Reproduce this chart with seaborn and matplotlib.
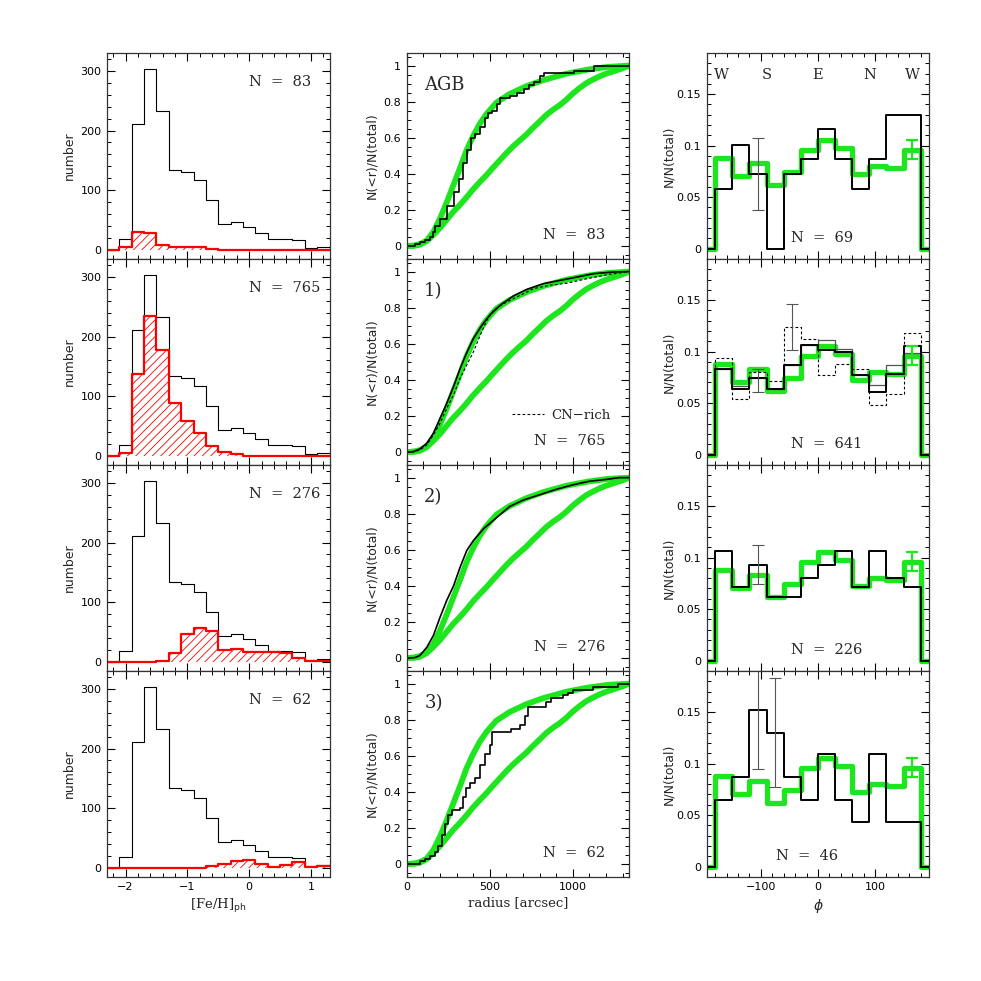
"""
Recreation of a 4x3 panel figure: [Fe/H] histograms, cumulative radial
distributions and azimuthal (phi) distributions for four stellar groups.
"""
import matplotlib
matplotlib.use("Agg")
import matplotlib.pyplot as plt
from matplotlib.lines import Line2D
from matplotlib.ticker import MultipleLocator, FuncFormatter
import numpy as np
import pandas as pd
import seaborn as sns

sns.set_theme(style="ticks")
plt.rcParams["font.family"] = ["DejaVu Sans"]
plt.rcParams["hatch.linewidth"] = 0.6
plt.rcParams["hatch.color"] = "red"

GREEN = "#1ee61e"
RED = "#ff0000"
SERIF = ["DejaVu Serif"]

# ---- left column: [Fe/H] histograms -------------------------------------
FEH_EDGES = [-2.3, -2.1, -1.9, -1.7, -1.5, -1.3, -1.1, -0.9, -0.7, -0.5,
             -0.3, -0.1, 0.1, 0.3, 0.5, 0.7, 0.9, 1.1, 1.3]
FEH_ALL = [0, 18, 211, 304, 232, 134, 131, 117, 84, 43, 47, 39, 28, 19, 19,
           16, 3, 4]
FEH_AGB = [0, 4, 30, 28, 8, 4, 4, 4, 1, 0, 0, 0, 0, 0, 0, 0, 0, 0]
FEH_POP1 = [0, 5, 138, 234, 178, 88, 58, 38, 16, 7, 3, 0, 0, 0, 0, 0, 0, 0]
FEH_POP2 = [0, 0, 0, 0, 1, 15, 46, 56, 52, 20, 22, 17, 16, 17, 15, 6, 2, 1]
FEH_POP3 = [0, 0, 0, 0, 0, 0, 0, 0, 3, 7, 12, 13, 6, 2, 5, 9, 2, 3]
FEH_SUBSETS = [FEH_AGB, FEH_POP1, FEH_POP2, FEH_POP3]

N_LEFT = ["N  =  83", "N  =  765", "N  =  276", "N  =  62"]
PANEL_TAGS = ["AGB", "1)", "2)", "3)"]
N_RIGHT = ["N  =  69", "N  =  641", "N  =  226", "N  =  46"]

# ---- middle column: cumulative radial distributions ---------------------
R_GREEN_IN = [0, 50, 80, 120, 160, 200, 240, 280, 320, 360, 400, 440, 480,
              540, 620, 720, 820, 960, 1090, 1210, 1340]
CUM_GREEN_IN = [0, 0.004, 0.012, 0.03, 0.078, 0.152, 0.24, 0.335, 0.43,
                0.53, 0.61, 0.678, 0.732, 0.795, 0.843, 0.886, 0.919, 0.955,
                0.978, 0.993, 1.0]
R_GREEN_OUT = [0, 50, 80, 120, 160, 200, 240, 280, 320, 360, 400, 440, 480,
               520, 560, 600, 640, 680, 720, 760, 800, 840, 880, 920, 960,
               1000, 1040, 1080, 1120, 1160, 1200, 1250, 1300, 1340]
CUM_GREEN_OUT = [0, 0.003, 0.008, 0.028, 0.062, 0.10, 0.145, 0.19, 0.228,
                 0.27, 0.315, 0.355, 0.393, 0.435, 0.475, 0.515, 0.552,
                 0.585, 0.617, 0.655, 0.69, 0.726, 0.755, 0.78, 0.81, 0.845,
                 0.875, 0.902, 0.922, 0.94, 0.955, 0.97, 0.985, 1.0]

R_AGB = [0, 50, 80, 110, 141, 161, 171, 201, 241, 282, 312, 342, 362, 386,
         412, 443, 473, 487, 513, 543, 563, 624, 664, 704, 734, 765, 805,
         825, 1006, 1127, 1340]
CUM_AGB = [0, 0.012, 0.024, 0.036, 0.048, 0.08, 0.11, 0.15, 0.22, 0.30,
           0.37, 0.46, 0.53, 0.60, 0.62, 0.66, 0.71, 0.74, 0.75, 0.79, 0.82,
           0.83, 0.85, 0.87, 0.89, 0.91, 0.94, 0.96, 0.97, 1.0, 1.0]
R_POP1 = [0, 40, 80, 121, 161, 201, 241, 282, 322, 362, 402, 453, 503, 563,
          644, 724, 825, 926, 1026, 1127, 1247, 1340]
CUM_POP1 = [0, 0.003, 0.018, 0.05, 0.105, 0.188, 0.27, 0.363, 0.464, 0.552,
            0.63, 0.703, 0.762, 0.814, 0.866, 0.902, 0.934, 0.952, 0.97,
            0.989, 0.998, 1.0]
R_CN = [0, 40, 80, 121, 161, 201, 241, 282, 322, 362, 402, 443, 483, 523,
        584, 664, 765, 865, 966, 1087, 1207, 1340]
CUM_CN = [0, 0.0, 0.012, 0.04, 0.096, 0.16, 0.243, 0.317, 0.41, 0.483,
          0.556, 0.648, 0.731, 0.786, 0.823, 0.86, 0.906, 0.925, 0.936,
          0.961, 0.983, 1.0]
R_POP2 = [0, 50, 80, 121, 161, 201, 241, 282, 322, 362, 402, 463, 543, 620,
          700, 800, 900, 1000, 1100, 1200, 1280, 1340]
CUM_POP2 = [0, 0.003, 0.015, 0.06, 0.126, 0.227, 0.32, 0.40, 0.505, 0.597,
            0.652, 0.717, 0.78, 0.84, 0.875, 0.905, 0.935, 0.96, 0.98, 0.99,
            1.0, 1.0]
R_POP3 = [0, 80, 110, 140, 170, 190, 210, 230, 250, 270, 320, 340, 360, 380,
          410, 440, 470, 500, 516, 630, 680, 710, 730, 840, 870, 940, 970,
          1000, 1120, 1270, 1340]
CUM_POP3 = [0, 0.016, 0.03, 0.045, 0.07, 0.10, 0.16, 0.22, 0.27, 0.30, 0.31,
            0.37, 0.42, 0.45, 0.48, 0.55, 0.61, 0.66, 0.73, 0.75, 0.77, 0.82,
            0.87, 0.90, 0.92, 0.935, 0.95, 0.967, 0.98, 1.0, 1.0]

# ---- right column: azimuthal distributions ------------------------------
PHI_EDGES = [-210, -180, -150, -120, -90, -60, -30, 0, 30, 60, 90, 120, 150,
             180, 210]
PHI_GREEN = [0, 0.088, 0.070, 0.083, 0.062, 0.074, 0.096, 0.105, 0.098,
             0.072, 0.080, 0.078, 0.096, 0]
PHI_AGB = [0, 0.058, 0.101, 0.072, 0, 0.072, 0.087, 0.116, 0.087, 0.058,
           0.087, 0.130, 0.130, 0]
PHI_POP1 = [0, 0.083, 0.064, 0.074, 0.064, 0.087, 0.106, 0.102, 0.100,
            0.077, 0.061, 0.078, 0.105, 0]
PHI_POP1_THIN = [0, 0.083, 0.067, 0.074, 0.064, 0.087, 0.106, 0.111, 0.103,
                 0.077, 0.068, 0.087, 0.099, 0]
PHI_POP1_CN = [0, 0.094, 0.054, 0.080, 0.071, 0.124, 0.112, 0.077, 0.088,
               0.083, 0.048, 0.059, 0.118, 0]
PHI_POP2 = [0, 0.106, 0.071, 0.093, 0.062, 0.062, 0.080, 0.093, 0.106,
            0.071, 0.106, 0.080, 0.071, 0]
PHI_POP3 = [0, 0.065, 0.087, 0.152, 0.130, 0.087, 0.065, 0.109, 0.065,
            0.043, 0.109, 0.043, 0.043, 0]
PHI_SUBSETS = [PHI_AGB, PHI_POP1, PHI_POP2, PHI_POP3]

# grey error bars (phi, value, error) per panel
ERR_X = [[-105], [-105, -45], [-105], [-105, -75]]
ERR_Y = [[0.072], [0.072, 0.124], [0.093], [0.152, 0.130]]
ERR_E = [[0.035], [0.011, 0.022], [0.019], [0.057, 0.053]]
GREEN_ERR = (165, 0.096, 0.009)

COMPASS = ["W", "S", "E", "N", "W"]
COMPASS_X = [-169, -90, 0, 90, 166]
N_RIGHT_X = [-48, -48, -48, -73]


def fmt(v, pos):
    return f"{v:g}".replace("-", "\u2212")


def style(ax):
    ax.tick_params(which="both", direction="in", top=True, right=True,
                   colors="black", labelsize=8, pad=4)
    ax.tick_params(which="major", length=6, width=0.8)
    ax.tick_params(which="minor", length=3, width=0.7)
    ax.xaxis.set_major_formatter(FuncFormatter(fmt))
    ax.yaxis.set_major_formatter(FuncFormatter(fmt))
    for s in ax.spines.values():
        s.set_linewidth(0.9)
        s.set_color("#333333")


def step_hist(ax, edges, vals, **kw):
    e = np.asarray(edges, dtype=float)
    df = pd.DataFrame({"x": (e[:-1] + e[1:]) / 2,
                       "w": np.asarray(vals, dtype=float)})
    sns.histplot(data=df, x="x", weights="w", bins=list(e), element="step",
                 fill=False, ax=ax, **kw)


fig = plt.figure(figsize=(9.81, 9.81), dpi=100)
W = 981.0
COL_X = [107, 406.7, 706.7]
COL_W = 222.5
ROW_TOP = [53, 259, 465, 671]
ROW_H = 205.8

mid_black = [(R_AGB, CUM_AGB, "steps-post"), (R_POP1, CUM_POP1, "default"),
             (R_POP2, CUM_POP2, "default"), (R_POP3, CUM_POP3, "steps-post")]

for row in range(4):
    axes = [fig.add_axes([COL_X[c] / W, 1 - (ROW_TOP[row] + ROW_H) / W,
                          COL_W / W, ROW_H / W]) for c in range(3)]
    a, b, c = axes
    last = row == 3

    # ---- [Fe/H] histogram
    a.stairs(FEH_SUBSETS[row], np.asarray(FEH_EDGES), baseline=0, fill=True,
             facecolor="none", edgecolor=RED, hatch="////", lw=0)
    step_hist(a, FEH_EDGES, FEH_ALL, color="black", lw=0.8)
    step_hist(a, FEH_EDGES, FEH_SUBSETS[row], color=RED, lw=1.6)
    a.set_xlim(-2.3, 1.3)
    a.set_ylim(-15, 330)
    a.xaxis.set_major_locator(MultipleLocator(1))
    a.xaxis.set_minor_locator(MultipleLocator(0.2))
    a.yaxis.set_major_locator(MultipleLocator(100))
    a.yaxis.set_minor_locator(MultipleLocator(20))
    a.text(0, 282, N_LEFT[row], fontsize=10.5, family=SERIF, va="center")
    a.set_ylabel("number", fontsize=9, labelpad=3)

    # ---- cumulative radial distributions
    sns.lineplot(x=R_GREEN_OUT, y=CUM_GREEN_OUT, ax=b, color=GREEN, lw=4.2,
                 estimator=None, sort=False)
    sns.lineplot(x=R_GREEN_IN, y=CUM_GREEN_IN, ax=b, color=GREEN, lw=4.2,
                 estimator=None, sort=False)
    if row == 1:
        sns.lineplot(x=R_CN, y=CUM_CN, ax=b, color="black", lw=0.8,
                     linestyle=(0, (2.5, 2)), estimator=None, sort=False)
        b.legend(handles=[Line2D([], [], color="black", lw=0.8,
                                 linestyle=(0, (2.5, 2)), label="CN\u2212rich")],
                 loc="lower left", bbox_to_anchor=(0.42, 0.15), frameon=False,
                 handlelength=2.4, handletextpad=0.6,
                 prop={"family": SERIF, "size": 9.5})
    rr, cc, ds = mid_black[row]
    sns.lineplot(x=rr, y=cc, ax=b, color="black", lw=1.2, drawstyle=ds,
                 estimator=None, sort=False)
    b.set_xlim(0, 1340)
    b.set_ylim(-0.07, 1.07)
    b.xaxis.set_major_locator(MultipleLocator(500))
    b.xaxis.set_minor_locator(MultipleLocator(100))
    b.yaxis.set_major_locator(MultipleLocator(0.2))
    b.yaxis.set_minor_locator(MultipleLocator(0.05))
    b.text(105, 0.895, PANEL_TAGS[row], fontsize=13, family=SERIF,
           va="center")
    b.text(1195, 0.063, N_LEFT[row], fontsize=10.5, family=SERIF,
           va="center", ha="right")
    b.set_ylabel("N(<r)/N(total)", fontsize=9, labelpad=4)

    # ---- azimuthal distributions
    step_hist(c, PHI_EDGES, PHI_GREEN, color=GREEN, lw=3.8)
    if row == 1:
        step_hist(c, PHI_EDGES, PHI_POP1_CN, color="black", lw=0.8,
                  linestyle=(0, (2.5, 2)))
        step_hist(c, PHI_EDGES, PHI_POP1_THIN, color="#555555", lw=0.9)
    step_hist(c, PHI_EDGES, PHI_SUBSETS[row], color="black", lw=1.4)
    c.errorbar(ERR_X[row], ERR_Y[row], yerr=ERR_E[row], fmt="none",
               ecolor="#555555", elinewidth=0.8, capsize=4, capthick=0.8)
    c.errorbar([GREEN_ERR[0]], [GREEN_ERR[1]], yerr=[GREEN_ERR[2]],
               fmt="none", ecolor=GREEN, elinewidth=1.6, capsize=4,
               capthick=1.6)
    c.set_xlim(-195, 195)
    c.set_ylim(-0.01, 0.19)
    c.xaxis.set_major_locator(MultipleLocator(100))
    c.xaxis.set_minor_locator(MultipleLocator(20))
    c.yaxis.set_major_locator(MultipleLocator(0.05))
    c.yaxis.set_minor_locator(MultipleLocator(0.01))
    c.text(N_RIGHT_X[row], 0.01, N_RIGHT[row], fontsize=10.5, family=SERIF,
           va="center")
    if row == 0:
        for lab, x in zip(COMPASS, COMPASS_X):
            c.text(x, 0.169, lab, fontsize=10.5, family=SERIF,
                   ha="center", va="center")
    c.set_ylabel("N/N(total)", fontsize=9, labelpad=1)

    for ax in axes:
        style(ax)
        ax.set_xlabel("")
        if not last:
            ax.tick_params(labelbottom=False)

    if last:
        a.set_xlabel("[Fe/H]$_{\\rm ph}$", fontsize=9.5, family=SERIF,
                     labelpad=3)
        b.set_xlabel("radius [arcsec]", fontsize=9.5, family=SERIF,
                     labelpad=3)
        c.set_xlabel("$\\phi$", fontsize=10, labelpad=3)

fig.savefig("out.png", dpi=100, facecolor="white")
